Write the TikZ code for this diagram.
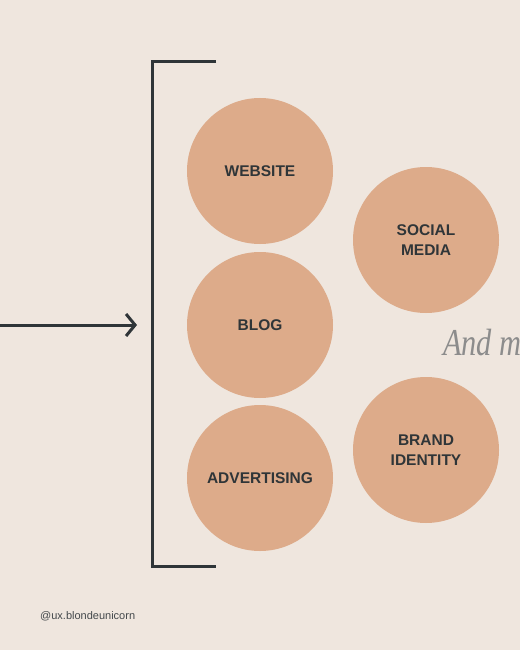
\documentclass[tikz,border=0pt]{standalone}
\usepackage{fontspec}
\setmainfont{Liberation Sans}
\newfontfamily\handfont{Liberation Serif}
\usetikzlibrary{arrows.meta}
\definecolor{bgcream}{HTML}{EFE6DE}
\definecolor{peach}{HTML}{DDAB8A}
\definecolor{ink}{HTML}{2F3538}
\definecolor{pencil}{HTML}{8C8C8C}
\begin{document}
\begin{tikzpicture}[x=1pt,y=-1pt,
  bubble/.style={circle,fill=peach,minimum size=146pt,inner sep=0pt,align=center,
    text=ink,font=\bfseries\fontsize{15.5}{20}\selectfont},
  bracket/.style={draw=ink,line width=3pt}]
\fill[bgcream] (0,0) rectangle (520,650);
\clip (0,0) rectangle (520,650);

\node[bubble] (website) at (260,171) {WEBSITE};
\node[bubble] (blog) at (260,325) {BLOG};
\node[bubble] (advertising) at (260,478) {ADVERTISING};
\node[bubble] (social) at (426,240) {SOCIAL\\MEDIA};
\node[bubble] (brand) at (426,450) {BRAND\\IDENTITY};

\draw[bracket] (216,62) -- (152,62) -- (152,566) -- (216,566);

\coordinate (start) at (0,325);
\coordinate (tip) at (137,325);
\draw[ink,line width=3pt,-{Straight Barb[length=9pt,width=22pt]}] (start) -- (tip);

\node[anchor=base west,inner sep=0pt,text=pencil,xscale=0.8,
  font=\handfont\itshape\fontsize{38}{40}\selectfont] (more) at (443,355) {And more};

\node[anchor=base west,inner sep=0pt,text=ink!90,
  font=\fontsize{11}{13}\selectfont] (handle) at (40,619) {@ux.blondeunicorn};
\end{tikzpicture}
\end{document}
